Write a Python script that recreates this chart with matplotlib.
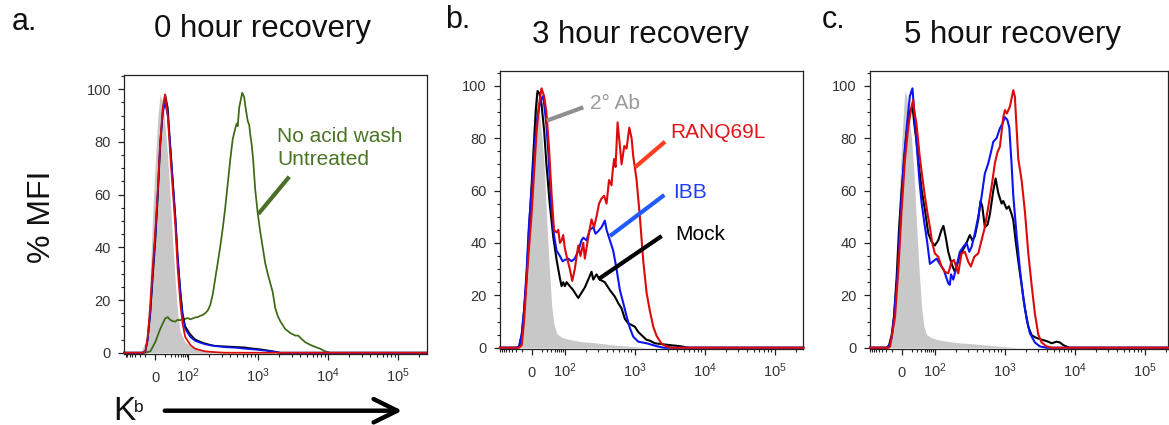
import matplotlib
matplotlib.use('Agg')
import matplotlib.pyplot as plt
from matplotlib.lines import Line2D
from matplotlib.ticker import FixedLocator, MultipleLocator, NullFormatter
import numpy as np

plt.rcParams['font.family'] = ['Liberation Sans', 'DejaVu Sans']
plt.rcParams['mathtext.fontset'] = 'custom'
plt.rcParams['mathtext.rm'] = 'Liberation Sans'
plt.rcParams['mathtext.it'] = 'Liberation Sans:italic'
plt.rcParams['mathtext.bf'] = 'Liberation Sans:bold'

# ---------------- data (fluorescence intensity -> % of max) ----------------
# Panel a: 0 hour recovery
A_GRAY_X = [-45, -30, -23, -15, -8, 0, 8, 15, 23, 30, 38, 45, 53, 61, 68, 76, 91, 107, 126, 175, 243, 338, 469]
A_GRAY_Y = [0, 4, 12, 30, 52, 72, 90, 98, 95, 86, 74, 60, 42, 27, 15, 8, 4, 2.5, 1.8, 1, 0.6, 0.3, 0]

A_RED_X = [-38, -30, -23, -15, -8, 0, 8, 15, 23, 30, 38, 45, 53, 61, 68, 76, 83, 91, 107, 126, 148, 175, 243, 338]
A_RED_Y = [0, 0.5, 6, 18, 32, 46, 62, 80, 93, 98, 90, 76, 62, 48, 32, 19, 11, 6, 3, 1.5, 1, 0.5, 0.2, 0]

A_BLACK_X = [-38, -30, -23, -15, -8, 0, 8, 15, 23, 30, 38, 45, 53, 61, 68, 76, 83, 91, 107, 126,
             148, 175, 206, 243, 338, 469, 652, 769, 906, 1068, 1259, 1484, 1749, 2062]
A_BLACK_Y = [0, 0.5, 5, 15, 28, 42, 60, 78, 92, 98, 93, 80, 66, 52, 37, 24, 15, 10, 7, 5,
             4.2, 3.5, 3, 2.6, 2.4, 2.2, 2, 1.7, 1.5, 1.3, 1, 0.7, 0.4, 0]

A_BLUE_X = [-38, -30, -23, -15, -8, 0, 8, 15, 23, 30, 38, 45, 53, 61, 68, 76, 83, 91, 107, 126,
            148, 175, 206, 243, 338, 469, 652, 906, 1259, 1484, 1749, 2062]
A_BLUE_Y = [0, 0.5, 5, 16, 30, 44, 62, 80, 91, 95, 90, 79, 65, 51, 36, 23, 14, 9, 6, 4.5,
            3.8, 3.2, 2.8, 2.5, 2.1, 1.9, 1.5, 1.2, 0.8, 0.5, 0.3, 0]

A_GREEN_X = [-30, -15, 0, 15, 30, 38, 45, 53, 61, 68, 76, 83, 91, 98, 107, 116, 126, 137, 148, 161,
             175, 190, 206, 224, 243, 264, 286, 311, 338, 367, 398, 432, 469, 493, 510, 535, 591, 631, 652, 708,
             744, 769, 808, 848, 906, 984, 1068, 1160, 1259, 1367, 1484, 1611, 1749, 1899, 2062, 2431, 2865, 3378,
             3727, 4253, 4692, 5534, 6520, 7686, 9060, 10680]
A_GREEN_Y = [0, 0.5, 4, 9, 13, 13.5, 12.5, 12, 11.8, 12.5, 12.3, 13, 12.8, 13.2, 12.7, 13, 13.4, 13.5, 14, 14.3,
             15, 16, 18, 22, 28, 34, 40, 47, 55, 64, 73, 81, 85, 87, 86, 93, 98.7, 97, 94, 88,
             86.5, 83, 79, 73, 62, 53, 46, 40, 34, 30, 26.5, 23, 17, 14, 12, 9, 7.5, 6.5,
             6.5, 5, 4, 3, 2.2, 1.5, 0.5, 0]

# Panel b: 3 hour recovery
B_GRAY_X = [-45, -38, -30, -23, -15, -8, 0, 8, 12, 18, 24, 30, 38, 45, 53, 61, 68, 76, 91, 107,
            126, 175, 243, 338, 469, 652, 906, 1259, 1484]
B_GRAY_Y = [0, 1, 4, 12, 30, 50, 72, 92, 98, 95, 90, 82, 70, 51, 32, 16, 9, 5.5, 4, 3.4,
            3, 2.3, 2, 1.6, 1.1, 0.8, 0.5, 0.2, 0]

B_RED_X = [-38, -30, -23, -15, -8, 0, 8, 15, 23, 30, 38, 45, 53, 61, 68, 76, 81, 86, 91, 96,
           101, 107, 119, 129, 140, 157, 169, 185, 195, 206, 224, 243, 264, 286, 311, 338, 367, 398, 432, 469,
           485, 510, 535, 572, 617, 652, 713, 769, 840, 906, 958, 1068, 1190, 1331, 1484, 1654, 1850, 2062,
           2431, 2865, 3378]
B_RED_Y = [0, 1, 10, 26, 38, 51, 68, 82, 93, 99, 96, 90, 76, 58, 45, 44, 45, 40, 41, 43,
           38, 35, 30, 25.5, 30, 39, 35, 40, 34, 38, 44, 49, 46, 50, 55, 57, 58, 55, 64, 62,
           67, 72, 69, 86, 77, 70, 77, 76, 84, 80, 73, 64, 50, 33, 21, 14, 8, 4.5,
           1.5, 0.5, 0]

B_BLUE_X = [-45, -38, -30, -23, -15, -8, 0, 8, 15, 23, 30, 35, 39, 45, 51, 55, 61, 68, 76, 86,
            94, 101, 113, 126, 140, 157, 175, 185, 206, 230, 257, 277, 303, 338, 376, 398, 444, 496, 553, 617,
            690, 769, 857, 958, 1129, 1484, 2062, 2597]
B_BLUE_Y = [0, 0.5, 5, 14, 30, 47, 60, 75, 86, 92, 95, 96, 92, 85, 74, 64, 52, 43, 37, 35,
            33, 33.5, 34, 33, 34, 37, 41, 42, 41, 45, 46, 43.5, 44.5, 46, 48.5, 45, 41, 37, 30, 22,
            17, 12, 7.5, 4.2, 2.3, 1.7, 0.6, 0]

B_BLACK_X = [-45, -38, -30, -23, -15, -8, 0, 8, 13, 18, 24, 30, 38, 45, 55, 66, 76, 86, 91, 96,
             101, 107, 119, 133, 144, 157, 175, 195, 218, 243, 257, 286, 319, 376, 444, 523, 585, 652, 727, 813,
             906, 1010, 1129, 1259, 1484, 1654, 1950, 2570, 3193, 4438, 5906]
B_BLACK_Y = [0, 0.5, 5, 14, 27, 45, 62, 80, 91, 98, 97, 93, 83, 70, 55, 42, 33.5, 26.5, 23.5, 25,
             23.5, 25, 23.5, 22, 20.5, 19, 21, 23, 26, 29, 26, 28, 26, 25, 22, 19.5, 17, 15, 11, 9.3,
             8.7, 8, 6, 4.8, 3, 2.7, 1.7, 1.3, 1, 0.6, 0]

# Panel c: 5 hour recovery
C_GRAY_X = [-45, -38, -30, -23, -15, -8, 0, 8, 11, 15, 23, 30, 38, 45, 53, 61, 68, 76, 91, 107,
            126, 175, 243, 338, 469, 652, 906, 1259, 1484]
C_GRAY_Y = [0, 1, 4, 12, 32, 55, 78, 95, 98, 96, 88, 80, 66, 48, 30, 15, 8, 5, 3.8, 3.2,
            2.8, 2.2, 1.8, 1.5, 1.2, 0.8, 0.5, 0.2, 0]

C_BLUE_X = [-45, -38, -30, -25, -13, -3, 7, 17, 25, 33, 40, 48, 54, 61, 71, 78, 86, 96, 107, 119,
            136, 157, 165, 172, 185, 206, 230, 257, 286, 313, 338, 376, 421, 469, 523, 585, 631, 690, 769, 857,
            936, 1010, 1093, 1167, 1259, 1331, 1484, 1654, 1850, 2062, 2298, 2710, 3193, 3981]
C_BLUE_Y = [0, 0.5, 4, 9.3, 27, 51, 72, 86, 96, 99, 87, 74, 64, 55, 46, 40, 32, 33, 34, 32,
            29.6, 24.6, 24, 28, 26, 31, 36.6, 38.5, 40, 36.6, 38.5, 43.6, 50, 57.6, 66.5, 70.4, 74, 78.6, 80, 83.7,
            85.6, 88, 87, 84, 70, 58, 43, 30, 19, 11, 5.5, 2, 0.5, 0]

C_RED_X = [-39, -35, -20, -10, 0, 10, 20, 30, 35, 39, 45, 55, 63, 71, 79, 86, 93, 101, 113, 126,
           140, 157, 175, 189, 218, 243, 271, 303, 330, 369, 421, 469, 523, 585, 652, 727, 794, 857, 958, 1010,
           1079, 1190, 1331, 1403, 1569, 1749, 1950, 2181, 2431, 2710, 3029, 3378, 3981, 4692]
C_RED_Y = [0, 0.5, 11.8, 29.6, 52.5, 71.6, 84, 92, 94.5, 90, 85.6, 73, 65, 57.6, 51, 46, 40, 36, 34.7, 31,
           29, 28.4, 32.8, 33.5, 28.4, 36, 36.6, 32.8, 31, 34.7, 36, 41, 46, 53.8, 61.5, 70.4, 74.8, 76.7, 88, 90.7,
           89.4, 92, 98.3, 95.8, 72, 64, 52, 36, 24, 13, 5, 2, 0.5, 0]

C_BLACK_X = [-45, -38, -30, -23, -15, -8, 0, 8, 15, 23, 27, 33, 39, 45, 54, 61, 71, 81, 91, 101,
             113, 126, 134, 145, 157, 169, 181, 195, 211, 230, 257, 286, 319, 346, 376, 421, 454, 480, 523, 572,
             617, 690, 744, 813, 906, 958, 1068, 1152, 1259, 1331, 1436, 1569, 1749, 1950, 2181, 2431, 2710, 3029,
             3572, 4210, 4692, 5534, 6166, 6896, 7686, 8570]
C_BLACK_Y = [0, 1, 5, 12, 27, 45, 60, 72, 82, 88, 91, 92, 85, 79, 68, 60, 52.5, 43.6, 40.5, 39,
             41, 45, 46.5, 42, 36.6, 33.5, 31, 29, 32, 35, 37.5, 40, 43, 41, 42.5, 49, 56, 54, 46, 47,
             51, 60, 64.6, 59, 55, 56, 53, 54, 51, 48.7, 41, 33, 24, 15, 8, 4.8, 4, 3.5,
             2.9, 2.3, 1.7, 2.3, 2, 1, 0.4, 0]

TITLES = ['0 hour recovery', '3 hour recovery', '5 hour recovery']
PANEL_LETTERS = ['a.', 'b.', 'c.']
Y_TICKS = [0, 20, 40, 60, 80, 100]
X_TICKS = [0, 1e2, 1e3, 1e4, 1e5]
X_TICK_LABELS = ['0', '$10^2$', '$10^3$', '$10^4$', '$10^5$']

# ---------------- style ----------------
GRAY_FILL = '#c8c8c8'
RED = '#dc0a0a'
BLUE = '#0a14f5'
BLACK = '#000000'
GREEN = '#3d6814'

W, H = 1169, 425
fig = plt.figure(figsize=(W / 100, H / 100), dpi=100)
fig.patch.set_facecolor('white')


def fx(px):
    return px / W


def fy(py):
    return 1 - py / H


# axes boxes in pixels: left, top, right, bottom ; x-limits
BOXES = [(124.3, 74.8, 426.7, 354.3), (500.0, 71.3, 803.3, 349.3), (870.0, 71.3, 1168.3, 349.3)]
XLIMS = [(-94, 254500), (-96, 256200), (-96, 217300)]
LWS = [1.25, 1.5, 1.5]

minor_x = ([-100 * np.log10(k) for k in range(2, 10)] + [100 * np.log10(k) for k in range(2, 10)]
           + [k * 10 ** d for d in (2, 3, 4, 5) for k in range(2, 10)])

axes = []
for (l, t, r, b), xl in zip(BOXES, XLIMS):
    ax = fig.add_axes([fx(l), fy(b), (r - l) / W, (b - t) / H])
    ax.set_xscale('symlog', linthresh=100, linscale=0.423, base=10)
    ax.set_xlim(*xl)
    ax.set_ylim(-0.6, 105.5)
    ax.xaxis.set_major_locator(FixedLocator(X_TICKS))
    ax.xaxis.set_minor_locator(FixedLocator(minor_x))
    ax.xaxis.set_major_formatter(NullFormatter())
    ax.xaxis.set_minor_formatter(NullFormatter())
    ax.yaxis.set_major_locator(FixedLocator(Y_TICKS))
    ax.yaxis.set_minor_locator(MultipleLocator(5))
    ax.tick_params(axis='both', which='major', direction='out', length=4.5, width=0.9,
                   color='#222222', labelsize=10.5, labelcolor='#333333')
    ax.tick_params(axis='both', which='minor', direction='out', length=2.3, width=0.8, color='#222222')
    ax.tick_params(axis='y', pad=5)
    for sp in ax.spines.values():
        sp.set_linewidth(0.9)
        sp.set_color('#222222')
    for tv, tl in zip(X_TICKS, X_TICK_LABELS):
        ax.annotate(tl, xy=(tv, 0), xycoords=('data', 'axes fraction'), xytext=(0, -20),
                    textcoords='offset points', ha='center', va='baseline', fontsize=10.5,
                    color='#333333', annotation_clip=False)
    axes.append(ax)


def trace(ax, x, y, color, z, lw):
    xlo, xhi = ax.get_xlim()
    ax.plot([xlo] + list(x) + [xhi], [0] + list(y) + [0], color=color, lw=lw, zorder=z,
            solid_joinstyle='round', clip_on=False)


def gray(ax, x, y):
    ax.fill_between(x, y, 0, color=GRAY_FILL, lw=0, zorder=1)


axA, axB, axC = axes
gray(axA, A_GRAY_X, A_GRAY_Y)
trace(axA, A_GREEN_X, A_GREEN_Y, GREEN, 2, LWS[0])
trace(axA, A_BLACK_X, A_BLACK_Y, BLACK, 3, LWS[0])
trace(axA, A_BLUE_X, A_BLUE_Y, BLUE, 4, LWS[0])
trace(axA, A_RED_X, A_RED_Y, RED, 5, LWS[0])

gray(axB, B_GRAY_X, B_GRAY_Y)
trace(axB, B_BLACK_X, B_BLACK_Y, BLACK, 3, LWS[1])
trace(axB, B_BLUE_X, B_BLUE_Y, BLUE, 4, LWS[1])
trace(axB, B_RED_X, B_RED_Y, RED, 5, LWS[1])

gray(axC, C_GRAY_X, C_GRAY_Y)
trace(axC, C_BLACK_X, C_BLACK_Y, BLACK, 3, LWS[2])
trace(axC, C_BLUE_X, C_BLUE_Y, BLUE, 4, LWS[2])
trace(axC, C_RED_X, C_RED_Y, RED, 5, LWS[2])

# ---------------- titles, panel letters ----------------
TITLE_POS = [(263, 37), (641, 43), (1012, 43)]
LETTER_POS = [(12, 30), (445, 28), (822, 28)]
for (tx, ty), s in zip(TITLE_POS, TITLES):
    fig.text(fx(tx), fy(ty), s, fontsize=22.5, ha='center', va='baseline', color='#111111')
for (lx, ly), s in zip(LETTER_POS, PANEL_LETTERS):
    fig.text(fx(lx), fy(ly), s, fontsize=22, ha='left', va='baseline', color='#111111')

fig.text(fx(42), fy(217), '% MFI', fontsize=23, rotation=90, ha='center', va='center', color='#111111')

# K^b label and arrow
fig.text(fx(113), fy(420), 'K', fontsize=24, ha='left', va='baseline', color='#111111')
fig.text(fx(134), fy(411.5), 'b', fontsize=12.5, ha='left', va='baseline', color='#111111')
fig.patches.append(matplotlib.patches.FancyArrowPatch(
    (fx(162), fy(410.7)), (fx(405), fy(410.7)), transform=fig.transFigure,
    arrowstyle='->,head_length=0.85,head_width=0.42', mutation_scale=20, lw=3.2, color='black'))


# ---------------- annotations ----------------
def fig_line(x0, y0, x1, y1, color, lw=3.0):
    fig.add_artist(Line2D([fx(x0), fx(x1)], [fy(y0), fy(y1)], transform=fig.transFigure,
                          color=color, lw=lw, solid_capstyle='butt'))


def fig_label(x, y, s, color):
    fig.text(fx(x), fy(y), s, fontsize=15, ha='left', va='baseline', color=color)


fig_label(277, 141.7, 'No acid wash', '#4a7524')
fig_label(277, 165, 'Untreated', '#4a7524')
fig_line(289.3, 176.7, 258.3, 214, '#4d6e26')

fig_label(590, 108.5, '2° Ab', '#9a9a9a')
fig_line(546.7, 120.7, 583.3, 107.3, '#8f8f8f')
fig_label(670, 138.3, 'RANQ69L', '#e3161b')
fig_line(635, 167.3, 665, 141.7, '#ff3d20')
fig_label(673, 198.3, 'IBB', '#1f3cff')
fig_line(610, 236, 664.3, 195, '#1f5cff')
fig_label(675, 240, 'Mock', '#000000')
fig_line(598.3, 279.3, 661.7, 236, '#000000')

fig.savefig('out.png', dpi=100, facecolor='white')
